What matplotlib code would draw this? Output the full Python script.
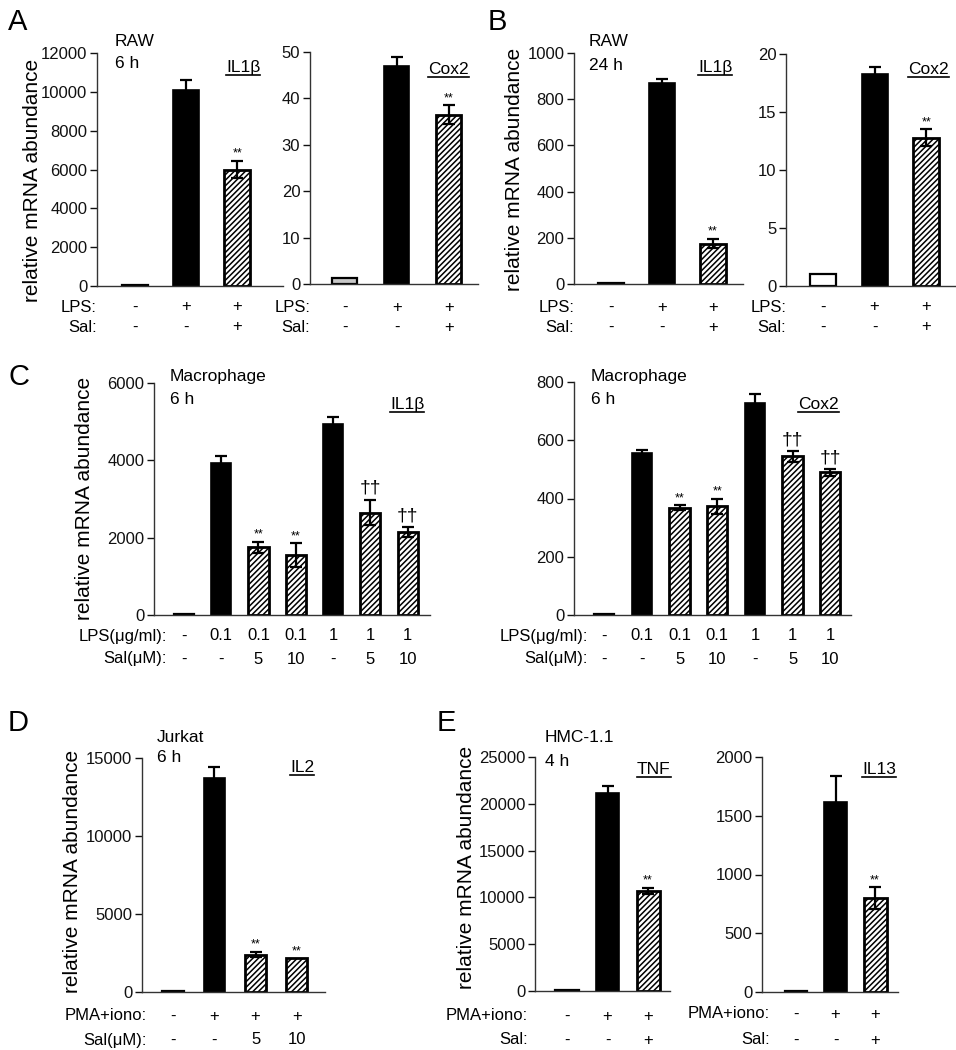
import matplotlib
matplotlib.use('Agg')
import matplotlib.pyplot as plt
from matplotlib.lines import Line2D

plt.rcParams['font.family'] = ['Liberation Sans', 'DejaVu Sans']
plt.rcParams['hatch.linewidth'] = 1.1

W, H = 956, 1050
fig = plt.figure(figsize=(W / 100, H / 100), dpi=100)

# ---------------- data ----------------
# Panel A (RAW 6 h)
a_il1b = [20, 10100, 6000]
a_il1b_err = [0, 500, 450]
a_il1b_sig = ['', '', '**']
a_cox2 = [1.2, 47, 36.5]
a_cox2_err = [0, 2.0, 2.0]
a_cox2_sig = ['', '', '**']
# Panel B (RAW 24 h)
b_il1b = [3, 868, 175]
b_il1b_err = [0, 18, 20]
b_il1b_sig = ['', '', '**']
b_cox2 = [1.0, 18.3, 12.8]
b_cox2_err = [0, 0.6, 0.7]
b_cox2_sig = ['', '', '**']
# Panel C (Macrophage 6 h)
c_il1b = [20, 3930, 1750, 1550, 4950, 2650, 2150]
c_il1b_err = [0, 170, 150, 300, 170, 330, 130]
c_il1b_sig = ['', '', '**', '**', '', '††', '††']
c_cox2 = [3, 555, 368, 373, 728, 545, 490]
c_cox2_err = [0, 10, 8, 27, 32, 18, 12]
c_cox2_sig = ['', '', '**', '**', '', '††', '††']
# Panel D (Jurkat 6 h)
d_il2 = [50, 13700, 2400, 2150]
d_il2_err = [0, 750, 180, 0]
d_il2_sig = ['', '', '**', '**']
# Panel E (HMC-1.1 4 h)
e_tnf = [30, 21200, 10700]
e_tnf_err = [0, 700, 300]
e_tnf_sig = ['', '', '**']
e_il13 = [10, 1620, 800]
e_il13_err = [0, 220, 90]
e_il13_sig = ['', '', '**']

# condition rows
lps3 = ['-', '+', '+']
sal3 = ['-', '-', '+']
lps_c = ['-', '0.1', '0.1', '0.1', '1', '1', '1']
sal_c = ['-', '-', '5', '10', '-', '5', '10']
pma_d = ['-', '+', '+', '+']
sal_d = ['-', '-', '5', '10']

styles3 = ['w', 'k', 'h']
styles_c = ['w', 'k', 'h', 'h', 'k', 'h', 'h']
styles_d = ['w', 'k', 'h', 'h']


def fx(x):
    return x / W


def fy(y):
    return 1 - y / H


def panel(box, xlim, ymax, ystep, vals, errs, styles, sigs, rows, rowlabels,
          row_offsets, width, ctrl_color='white', lab_dx=0):
    l, t, r, b = box
    ax = fig.add_axes([fx(l), fy(b), (r - l) / W, (b - t) / H])
    for i, (v, e, s) in enumerate(zip(vals, errs, styles)):
        if s == 'k':
            ax.bar(i, v, width=width, color='black', edgecolor='black',
                   linewidth=1.2, zorder=2)
        elif s == 'h':
            ax.bar(i, v, width=width, color='white', edgecolor='black',
                   hatch='//////', linewidth=2.0, zorder=2)
        else:
            ax.bar(i, max(v, ymax * 0.004), width=width, color=ctrl_color,
                   edgecolor='black', linewidth=1.6, zorder=2)
        if e > 0:
            ax.errorbar(i, v, yerr=e, fmt='none', ecolor='black',
                        elinewidth=1.6, capsize=4, capthick=1.6, zorder=3)
    for i, sg in enumerate(sigs):
        if sg:
            top = vals[i] + errs[i]
            if sg == '**':
                ax.annotate(sg, xy=(i, top), xytext=(0, 1),
                            textcoords='offset points', ha='center',
                            va='bottom', fontsize=9)
            else:
                ax.annotate(sg, xy=(i, top), xytext=(0, 2),
                            textcoords='offset points', ha='center',
                            va='bottom', fontsize=14)
    ax.set_xlim(*xlim)
    ax.set_ylim(0, ymax)
    ticks = [k * ystep for k in range(int(round(ymax / ystep)) + 1)]
    ax.set_yticks(ticks)
    ax.set_yticklabels([str(int(tk)) for tk in ticks])
    ax.set_xticks([])
    for sp in ['top', 'right']:
        ax.spines[sp].set_visible(False)
    for sp in ['left', 'bottom']:
        ax.spines[sp].set_linewidth(1.0)
        ax.spines[sp].set_color('#333333')
    ax.tick_params(axis='y', direction='out', length=5, width=1.0,
                   labelsize=12, pad=2, colors='#111111')
    ax.patch.set_alpha(0)
    for row, lab, off in zip(rows, rowlabels, row_offsets):
        for i, txt in enumerate(row):
            ax.annotate(txt, xy=(i, 0), xycoords=('data', 'axes fraction'),
                        xytext=(0, -off * 0.72), textcoords='offset points',
                        ha='center', va='center', fontsize=12)
        ax.annotate(lab, xy=(0, 0), xycoords='axes fraction',
                    xytext=(lab_dx * 0.72, -off * 0.72),
                    textcoords='offset points',
                    ha='right', va='center', fontsize=12)
    return ax


def underlined(x, y, s, size=12.5):
    t = fig.text(fx(x), fy(y), s, ha='left', va='baseline', fontsize=size)
    fig.canvas.draw()
    bb = t.get_window_extent().transformed(fig.transFigure.inverted())
    yl = fy(y + 3)
    fig.add_artist(Line2D([bb.x0, bb.x1], [yl, yl], color='black',
                          lw=1.2, transform=fig.transFigure))


def label(x, y, s, size=12.5):
    fig.text(fx(x), fy(y), s, ha='left', va='center', fontsize=size)


def ylab(x, y):
    fig.text(fx(x), fy(y), 'relative mRNA abundance', rotation=90,
             ha='center', va='center', fontsize=15)


def letter(x, y, s):
    fig.text(fx(x), fy(y), s, ha='left', va='center', fontsize=21)


# ---------------- Panel A ----------------
letter(8, 22, 'A')
panel((97, 53, 283, 286), (-0.75, 2.9), 12000, 2000, a_il1b, a_il1b_err,
      styles3, a_il1b_sig, [lps3, sal3], ['LPS:', 'Sal:'], [21, 41], 0.5)
panel((310, 52, 478, 284), (-0.67, 2.56), 50, 10, a_cox2, a_cox2_err,
      styles3, a_cox2_sig, [lps3, sal3], ['LPS:', 'Sal:'], [23, 43], 0.48,
      ctrl_color='#c8c8c8')
ylab(33, 180)
label(115, 42, 'RAW')
label(115, 64, '6 h')
underlined(226, 72, 'IL1β')
underlined(428, 74, 'Cox2')

# ---------------- Panel B ----------------
letter(488, 22, 'B')
panel((574, 53, 743, 284), (-0.73, 2.59), 1000, 200, b_il1b, b_il1b_err,
      styles3, b_il1b_sig, [lps3, sal3], ['LPS:', 'Sal:'], [23, 43], 0.5)
panel((786, 54, 955, 286), (-0.72, 2.56), 20, 5, b_cox2, b_cox2_err,
      styles3, b_cox2_sig, [lps3, sal3], ['LPS:', 'Sal:'], [21, 41], 0.5)
ylab(515, 169)
label(589, 42, 'RAW')
label(589, 66, '24 h')
underlined(698, 72, 'IL1β')
underlined(908, 74, 'Cox2')

# ---------------- Panel C ----------------
letter(8, 377, 'C')
panel((154, 383, 430, 615), (-0.8, 6.6), 6000, 2000, c_il1b, c_il1b_err,
      styles_c, c_il1b_sig, [lps_c, sal_c], ['LPS(μg/ml):', 'Sal(μM):'],
      [21, 44], 0.54, lab_dx=13)
panel((574, 382, 851, 615), (-0.8, 6.55), 800, 200, c_cox2, c_cox2_err,
      styles_c, c_cox2_sig, [lps_c, sal_c], ['LPS(μg/ml):', 'Sal(μM):'],
      [21, 44], 0.54, lab_dx=14)
ylab(85, 498)
label(170, 377, 'Macrophage')
label(170, 400, '6 h')
underlined(390, 409, 'IL1β')
label(591, 377, 'Macrophage')
label(591, 400, '6 h')
underlined(798, 409, 'Cox2')

# ---------------- Panel D ----------------
letter(8, 723, 'D')
panel((142, 758, 325, 992), (-0.75, 3.68), 15000, 5000, d_il2, d_il2_err,
      styles_d, d_il2_sig, [pma_d, sal_d], ['PMA+iono:', 'Sal(μM):'],
      [24, 48], 0.51, lab_dx=5)
ylab(73, 871)
label(157, 737, 'Jurkat')
label(157, 758, '6 h')
underlined(290, 772, 'IL2')

# ---------------- Panel E ----------------
letter(437, 723, 'E')
panel((535, 757, 670, 991), (-0.79, 2.54), 25000, 5000, e_tnf, e_tnf_err,
      styles3, e_tnf_sig, [pma_d[:3], sal3], ['PMA+iono:', 'Sal:'],
      [25, 49], 0.57, lab_dx=-7)
panel((762, 757, 898, 992), (-0.86, 2.58), 2000, 500, e_il13, e_il13_err,
      styles3, e_il13_sig, [pma_d[:3], sal3], ['PMA+iono:', 'Sal:'],
      [22, 48], 0.58, lab_dx=8)
ylab(466, 867)
label(545, 737, 'HMC-1.1')
label(545, 762, '4 h')
underlined(637, 774, 'TNF')
underlined(862, 774, 'IL13')

fig.savefig('out.png', dpi=100)
